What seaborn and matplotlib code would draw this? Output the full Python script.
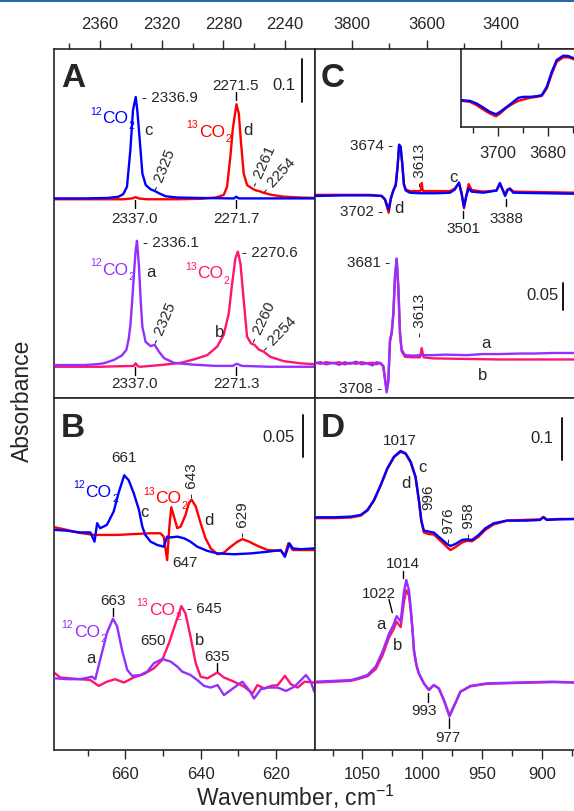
import numpy as np
import pandas as pd
import matplotlib
matplotlib.use('Agg')
import matplotlib.pyplot as plt
from matplotlib.lines import Line2D
from matplotlib.patches import Rectangle
import seaborn as sns

sns.set_style('ticks')
plt.rcParams['font.family'] = ['Liberation Sans', 'DejaVu Sans']
plt.rcParams['mathtext.fontset'] = 'custom'
plt.rcParams['mathtext.rm'] = 'Liberation Sans'
plt.rcParams['mathtext.it'] = 'Liberation Sans:italic'
plt.rcParams['mathtext.bf'] = 'Liberation Sans:bold'
plt.rcParams['mathtext.default'] = 'regular'

# ---------------- DATA (absorbance relative to each trace's baseline) ----------------
# Panel A : CO2 stretching region
A_wn_c = [2390, 2370, 2355, 2348, 2345, 2342.6, 2340.4, 2338.7, 2336.9, 2335.9, 2334.3, 2332.6,
          2330.4, 2327.2, 2325, 2321.8, 2317.5, 2310, 2295, 2276, 2273, 2271.7, 2270, 2267, 2250, 2220]
A_c = [0, 0, 0.001, 0.004, 0.010, 0.027, 0.112, 0.205, 0.236, 0.205, 0.136, 0.058,
       0.031, 0.021, 0.018, 0.012, 0.005, 0.002, 0.001, 0, 0, 0.004, 0, 0, 0, 0]
A_wn_d = [2390, 2360, 2345, 2339, 2337, 2335, 2330, 2310, 2295, 2285, 2279.8, 2277.6, 2275.4, 2273.9,
          2271.5, 2270.0, 2268.5, 2266.8, 2264.6, 2261.3, 2259.2, 2255.9, 2254, 2248.4, 2240.8, 2230, 2220]
A_d = [-0.002, -0.002, -0.002, 0.0, 0.003, 0.0, -0.002, -0.002, -0.001, 0.002, 0.008, 0.027, 0.099, 0.161,
       0.219, 0.198, 0.128, 0.058, 0.031, 0.023, 0.019, 0.016, 0.013, 0.008, 0.004, 0.002, 0.001]
A_wn_a = [2390, 2370, 2362, 2357.7, 2351, 2346, 2343, 2341.5, 2340.3, 2339, 2338, 2337, 2336.1, 2334.8,
          2333.7, 2332.6, 2330.5, 2327.2, 2324.6, 2321.8, 2318.5, 2312, 2300, 2285, 2274, 2271.3, 2268,
          2250, 2220]
A_a = [0, 0, 0.002, 0.004, 0.012, 0.022, 0.035, 0.06, 0.095, 0.16, 0.215, 0.265, 0.289, 0.229,
       0.151, 0.089, 0.054, 0.044, 0.047, 0.031, 0.016, 0.005, 0.001, -0.002, -0.002, 0.003, -0.002,
       -0.004, -0.004]
A_wn_b = [2388.9, 2359.7, 2338.1, 2337.0, 2335.5, 2333.8, 2320.8, 2307.8, 2299.2, 2290.5, 2284.0, 2279.8,
          2276.5, 2274.3, 2272.2, 2270.6, 2268.9, 2266.8, 2264.6, 2262.0, 2259.8, 2257.0, 2253.8, 2249.5,
          2240.8, 2230, 2221]
A_b = [-0.004, -0.004, -0.002, 0.004, -0.003, -0.004, 0.0, 0.005, 0.013, 0.023, 0.043, 0.070,
       0.120, 0.190, 0.248, 0.264, 0.236, 0.151, 0.066, 0.050, 0.047, 0.036, 0.031, 0.019,
       0.009, 0.004, 0.002]

# Panel B : CO2 bending region
B_wn = [678.7, 675.5, 672.0, 669.3, 668.2, 667.5, 666.7, 664.9, 663.1, 661.8, 660.3, 659.1, 657.8, 656.4,
        655.5, 654.7, 653.3, 651.5, 649.8, 648.9, 648.0, 646.2, 644.4, 642.7, 640.9, 638.2, 635.5,
        631.1, 626.7, 622.2, 618.7, 617.6, 616.4, 615.5, 613.3, 609.8]
B_c = [0.004, 0.003, 0.001, 0.001, -0.010, 0.012, 0.006, 0.010, 0.026, 0.048, 0.069, 0.063, 0.048, 0.028,
       0.008, -0.002, -0.010, -0.014, -0.016, -0.004, -0.005, -0.004, -0.006, -0.010, -0.016, -0.021, -0.024,
       -0.025, -0.024, -0.022, -0.020, -0.028, -0.012, -0.018, -0.019, -0.018]
B_wn_d = [678.7, 675.5, 672.9, 668.4, 662.2, 657.8, 653.3, 650.7, 649.8, 648.9, 648.3, 647.8, 647.1, 646.2,
          645.3, 644.0, 643.1, 642.4, 641.3, 640.0, 638.7, 637.3, 635.5, 633.8, 632.0, 630.2, 628.9,
          627.1, 624.9, 622.2, 618.7, 617.6, 616.7, 615.5, 609.8]
B_d = [0.007, 0.004, 0.001, -0.002, -0.002, -0.001, 0.0, 0.0, -0.004, -0.032, 0.008, 0.031, 0.020, 0.006,
       0.008, 0.022, 0.036, 0.040, 0.032, 0.012, -0.006, -0.018, -0.025, -0.023, -0.016, -0.010, -0.007,
       -0.010, -0.015, -0.020, -0.021, -0.026, -0.012, -0.020, -0.020]
B_wn_a = [678.7, 675.5, 672.0, 669.8, 668.9, 668.0, 666.7, 664.9, 663.3, 662.2, 660.9, 659.5, 658.2, 656.0,
          654.2, 652.4, 650.2, 648.0, 646.2, 644.9, 642.7, 640.9, 639.1, 637.3, 635.5, 633.8, 632.0,
          630.2, 628.9, 627.1, 625.8, 624.0, 622.2, 619.5, 617.3, 615.1, 613.3, 612.0, 610.7, 609.8]
B_a = [0.0, -0.001, -0.001, 0.001, 0.002, -0.001, 0.022, 0.054, 0.071, 0.062, 0.034, 0.010, 0.003, 0.004,
       0.008, 0.018, 0.023, 0.020, 0.014, 0.008, 0.004, -0.002, -0.009, -0.011, -0.008, -0.020, -0.014,
       -0.008, -0.004, -0.014, -0.024, -0.013, -0.011, -0.011, -0.015, -0.010, -0.002, 0.004, -0.004, -0.016]
B_wn_b = [678.7, 677.3, 674.7, 672.0, 669.3, 667.1, 664.9, 662.7, 660.4, 657.8, 655.1, 652.4, 650.2, 648.4,
          646.7, 645.1, 644.0, 642.7, 641.3, 640.0, 638.2, 635.5, 633.8, 631.1, 628.4, 626.2, 624.9,
          623.1, 621.3, 619.5, 617.6, 616.0, 614.2, 612.4, 609.8]
B_b = [0.006, 0.001, 0.0, -0.001, -0.002, -0.009, -0.004, -0.001, -0.005, 0.001, 0.005, 0.012, 0.022, 0.042,
       0.065, 0.086, 0.077, 0.050, 0.018, 0.002, 0.0, 0.007, 0.001, -0.004, -0.010, -0.018, -0.008,
       -0.012, -0.009, -0.008, 0.003, -0.007, -0.011, -0.004, -0.005]

# Panel C : OH stretching region
C_wn_c = [3900, 3824, 3752, 3721, 3712, 3702, 3696, 3689.5, 3683, 3678, 3674, 3670, 3665.5, 3661, 3656,
          3645, 3618, 3609, 3573, 3537, 3524, 3513, 3506, 3499.5, 3494, 3487, 3479, 3448, 3412, 3403,
          3395.5, 3389, 3383, 3376, 3367, 3286, 3196]
C_c = [-0.002, -0.001, -0.001, -0.002, -0.008, -0.027, -0.006, 0.008, 0.017, 0.052, 0.093, 0.090, 0.059,
       0.019, 0.008, 0.004, 0.003, 0.003, 0.003, 0.004, 0.010, 0.023, 0.002, -0.022, -0.004, 0.012, 0.006,
       0.004, 0.008, 0.022, 0.009, -0.002, 0.008, 0.011, 0.004, 0.003, 0.002]
C_wn_d = [3900, 3824, 3752, 3721, 3712, 3702, 3696, 3689.5, 3683, 3678, 3674, 3670, 3665.5, 3661, 3656,
          3645, 3618, 3615, 3613, 3611, 3609, 3573, 3537, 3524, 3513, 3506, 3499.5, 3494, 3487, 3479,
          3448, 3412, 3403, 3395.5, 3389, 3383, 3376, 3367, 3286, 3196]
C_d = [0.0, 0.0, 0.0, -0.002, -0.009, -0.033, -0.007, 0.008, 0.020, 0.052, 0.090, 0.088, 0.057, 0.020,
       0.010, 0.007, 0.007, 0.009, 0.022, 0.009, 0.007, 0.007, 0.007, 0.012, 0.022, 0.004, -0.025, -0.004,
       0.020, 0.009, 0.006, 0.008, 0.021, 0.010, 0.000, 0.010, 0.012, 0.006, 0.005, 0.004]
C_wn_a = [3900, 3885, 3870, 3851, 3835, 3820, 3806, 3790, 3775, 3761, 3745, 3735, 3725, 3716.3, 3711.8,
          3707.3, 3702.9, 3698.4, 3693.9, 3689.4, 3685, 3680.5, 3676, 3671.5, 3667, 3658, 3636, 3615,
          3582, 3550, 3492, 3450, 3403, 3350, 3313, 3260, 3196]
C_a = [0.0, 0.002, -0.002, 0.001, -0.003, 0.002, -0.001, 0.003, -0.002, 0.0, -0.004, 0.002, 0.0, -0.006,
       -0.031, -0.054, -0.034, 0.043, 0.057, 0.093, 0.160, 0.194, 0.142, 0.056, 0.025, 0.015, 0.014, 0.015,
       0.015, 0.016, 0.015, 0.017, 0.017, 0.018, 0.018, 0.019, 0.019]
C_wn_b = [3900, 3885, 3870, 3851, 3835, 3820, 3806, 3790, 3775, 3761, 3745, 3735, 3725, 3716.3, 3711.8,
          3707.3, 3702.9, 3698.4, 3693.9, 3689.4, 3685, 3680.5, 3676, 3671.5, 3667, 3658, 3636, 3618,
          3615, 3613, 3611, 3608, 3582, 3492, 3403, 3313, 3196]
C_b = [0.001, -0.001, 0.002, 0.0, 0.002, -0.002, 0.001, -0.001, 0.002, 0.0, 0.001, -0.002, 0.001, -0.005,
       -0.028, -0.050, -0.032, 0.040, 0.055, 0.090, 0.158, 0.192, 0.140, 0.054, 0.022, 0.012, 0.011, 0.011,
       0.020, 0.028, 0.020, 0.011, 0.009, 0.008, 0.007, 0.007, 0.007]

# Inset of panel C
I_wn = [3714.5, 3711.2, 3708.5, 3705.9, 3703.2, 3700.8, 3699.2, 3696.5, 3693.9, 3691.9, 3689.9, 3687.2,
        3684.5, 3682.5, 3680.5, 3678.5, 3676.5, 3673.9, 3671.9, 3669.6, 3668.4]
I_c = [0.0, -0.0015, -0.0074, -0.0163, -0.0259, -0.0311, -0.0259, -0.0148, -0.0037, 0.0052, 0.0074, 0.0074,
       0.0089, 0.0111, 0.0296, 0.0630, 0.0889, 0.0985, 0.0978, 0.0926, 0.0910]
I_d = [-0.0015, -0.0037, -0.0111, -0.0207, -0.0296, -0.0356, -0.0296, -0.0163, -0.0074, -0.0015, 0.0015,
       0.0052, 0.0074, 0.0096, 0.0259, 0.0578, 0.0852, 0.0948, 0.0948, 0.0904, 0.0890]

# Panel D : carbonate / lattice region
D_wn_c = [1089.7, 1073.6, 1059.7, 1051.4, 1045.8, 1040.3, 1034.7, 1029.2, 1023.6, 1018.1, 1013.9, 1009.7,
          1005.6, 1002.8, 1000.8, 998.6, 994.4, 990.3, 984.7, 979.2, 976.4, 972.2, 966.7, 962.5, 958.3,
          952.8, 947.2, 940.3, 929.2, 912.5, 901.4, 898.6, 895.8, 884.7, 870.5]
D_c = [0, 0, 0.0016, 0.0056, 0.0175, 0.0413, 0.0770, 0.1167, 0.1444, 0.1579, 0.1524, 0.1325, 0.0968,
       0.0413, -0.0063, -0.0317, -0.0341, -0.0365, -0.0500, -0.0635, -0.0683, -0.0635, -0.0540, -0.0524,
       -0.0540, -0.0421, -0.0262, -0.0143, -0.0079, -0.0079, -0.0063, 0.0, -0.0063, -0.0048, -0.0040]
D_d = [-0.002, -0.002, -0.0005, 0.004, 0.016, 0.040, 0.076, 0.115, 0.143, 0.156, 0.151, 0.131, 0.095,
       0.040, -0.009, -0.036, -0.040, -0.041, -0.056, -0.071, -0.078, -0.071, -0.060, -0.056, -0.057,
       -0.046, -0.030, -0.017, -0.008, -0.006, -0.005, 0.001, -0.005, -0.004, -0.004]
D_wn_a = [1089.7, 1073.6, 1059.7, 1054.1, 1045.8, 1038.9, 1033.3, 1027.8, 1024.1, 1021.4, 1018.0, 1015.3,
          1013.3, 1011.1, 1009.7, 1008.0, 1006.9, 1004.8, 1002.8, 998.6, 994.4, 990.3, 986.1, 981.9,
          977.2, 972.2, 968.1, 959.7, 945.8, 920.8, 890.5, 870.5]
D_a = [0, 0.002, 0.004, 0.008, 0.016, 0.036, 0.071, 0.114, 0.135, 0.156, 0.143, 0.214, 0.242, 0.218, 0.178,
       0.120, 0.075, 0.040, 0.020, -0.004, -0.020, -0.008, -0.016, -0.044, -0.083, -0.051, -0.024, -0.010,
       -0.004, -0.002, 0.0, -0.002]
D_b = [-0.002, 0.0, 0.002, 0.006, 0.013, 0.030, 0.062, 0.105, 0.124, 0.143, 0.130, 0.190, 0.218, 0.205, 0.172,
       0.118, 0.073, 0.038, 0.019, -0.004, -0.019, -0.008, -0.016, -0.043, -0.080, -0.050, -0.024, -0.011,
       -0.005, -0.003, -0.001, -0.002]

# ---------------- STYLE ----------------
BLUE, RED, VIOLET, PINK = '#0000FF', '#FF0000', '#9430FF', '#FF1470'
LW = 1.7
W, H = 574, 811
FS_TICK, FS_ANN, FS_LET, FS_PANEL, FS_AX = 12, 11, 12, 24, 16.5
FS_CO, FS_ISO = 12.5, 7.5

fig = plt.figure(figsize=(W / 100, H / 100), dpi=100)
fig.patch.set_facecolor('white')
renderer = fig.canvas.get_renderer()


def add_ax(x0, y0, x1, y1):
    return fig.add_axes([x0 / W, 1 - y1 / H, (x1 - x0) / W, (y1 - y0) / H])


def ftxt(x, y, s, **kw):
    kw.setdefault('fontsize', FS_ANN)
    kw.setdefault('va', 'baseline')
    return fig.text(x / W, 1 - y / H, s, **kw)


def fline(x0, y0, x1, y1, lw=1.0):
    fig.add_artist(Line2D([x0 / W, x1 / W], [1 - y0 / H, 1 - y1 / H], transform=fig.transFigure,
                          color='black', lw=lw))


def co2(x, y, iso, color):
    t1 = ftxt(x, y - 8.5, iso, fontsize=FS_ISO, color=color)
    w1 = t1.get_window_extent(renderer).width
    t2 = ftxt(x + w1 + 0.5, y, 'CO', fontsize=FS_CO, color=color)
    w2 = t2.get_window_extent(renderer).width
    ftxt(x + w1 + w2 + 1.0, y + 5.5, '2', fontsize=FS_ISO, color=color)


def draw(ax, wn, vals, offset, color, z):
    df = pd.DataFrame({'wn': wn, 'A': np.asarray(vals, dtype=float) + offset})
    sns.lineplot(data=df, x='wn', y='A', ax=ax, color=color, lw=LW, estimator=None,
                 sort=True, zorder=z, legend=False)


def style(ax, top, major, minor, xlim, ylim, pad):
    ax.set_xlim(*xlim)
    ax.set_ylim(*ylim)
    ax.set_xlabel('')
    ax.set_ylabel('')
    ax.set_yticks([])
    ax.set_xticks(major)
    ax.set_xticks(minor, minor=True)
    ax.set_xticklabels([str(v) for v in major])
    for s in ax.spines.values():
        s.set_linewidth(1.2)
        s.set_visible(True)
    ax.tick_params(axis='x', which='both', direction='out', width=1.0, top=top, bottom=not top,
                   labeltop=top, labelbottom=not top, labelsize=FS_TICK, pad=pad)
    ax.tick_params(axis='x', which='major', length=6.5)
    ax.tick_params(axis='x', which='minor', length=4)
    ax.set_facecolor('white')


axA = add_ax(53.5, 49, 315, 398)
axB = add_ax(53.5, 398, 315, 750)
axC = add_ax(315, 49, 577, 398)
axD = add_ax(315, 398, 577, 750)

# Panel A
draw(axA, A_wn_d, A_d, 0.4644, RED, 2)
draw(axA, A_wn_c, A_c, 0.4644, BLUE, 3)
draw(axA, A_wn_b, A_b, 0.0767, PINK, 2)
draw(axA, A_wn_a, A_a, 0.0767, VIOLET, 3)
axA.plot([2228.7, 2228.7], [0.688, 0.788], color='black', lw=1.3)
style(axA, True, [2360, 2320, 2280, 2240], [2380, 2340, 2300, 2260], (2390.3, 2220.5), (0, 0.812), 6)

# Panel B
draw(axB, B_wn_d, B_d, 0.258, RED, 2)
draw(axB, B_wn, B_c, 0.258, BLUE, 3)
draw(axB, B_wn_b, B_b, 0.0853, PINK, 2)
draw(axB, B_wn_a, B_a, 0.0853, VIOLET, 3)
axB.plot([612.8, 612.8], [0.349, 0.399], color='black', lw=1.3)
style(axB, False, [660, 640, 620], [670, 650, 630], (679.1, 609.6), (0, 0.419), 6)

# Panel C
draw(axC, C_wn_d, C_d, 0.376, RED, 2)
draw(axC, C_wn_c, C_c, 0.376, BLUE, 3)
draw(axC, C_wn_b, C_b, 0.0643, PINK, 2)
draw(axC, C_wn_a, C_a, 0.0643, VIOLET, 3)
axC.plot([3233.3, 3233.3], [0.163, 0.213], color='black', lw=1.3)
style(axC, True, [3800, 3600, 3400], [3700, 3500, 3300], (3900, 3195.7), (0, 0.646), 6)

# Panel D
draw(axD, D_wn_c, D_d, 0.554, RED, 2)
draw(axD, D_wn_c, D_c, 0.554, BLUE, 3)
draw(axD, D_wn_a, D_b, 0.1626, PINK, 2)
draw(axD, D_wn_a, D_a, 0.1626, VIOLET, 3)
axD.plot([883, 883], [0.690, 0.790], color='black', lw=1.3)
style(axD, False, [1050, 1000, 950, 900], [1075, 1025, 975, 925, 875], (1089.7, 870.5), (0, 0.838), 6)

# Inset
axI = add_ax(461, 49, 577, 127)
axI.set_zorder(5)
draw(axI, I_wn, I_d, 0.0, RED, 2)
draw(axI, I_wn, I_c, 0.0, BLUE, 3)
style(axI, False, [3700, 3680], [3710, 3690, 3670], (3714.8, 3668.4), (-0.0593, 0.1133), 7)

# thin border strip at the very top of the picture
fig.add_artist(Rectangle((0, 1 - 2 / H), 1, 2 / H, transform=fig.transFigure, color='#2a66b0', lw=0))

# ---------------- TEXT ----------------
bold = dict(fontsize=FS_PANEL, fontweight='bold', va='baseline')
ftxt(61, 87, 'A', **bold)
ftxt(61, 437, 'B', **bold)
ftxt(321, 87, 'C', **bold)
ftxt(321, 437, 'D', **bold)

rot = dict(rotation_mode='anchor', ha='left', va='center')

# Panel A texts
co2(90, 123.3, '12', BLUE)
co2(186.7, 136.7, '13', RED)
ftxt(144, 135, 'c', fontsize=FS_LET)
ftxt(243.3, 135, 'd', fontsize=FS_LET)
ftxt(141.7, 101.7, '- 2336.9')
ftxt(235.8, 90, '2271.5', ha='center')
fline(235.7, 92, 235.7, 100)
ftxt(295, 90, '0.1', ha='right', fontsize=FS_LET)
ftxt(135, 223.3, '2337.0', ha='center')
fline(135, 200, 135, 208)
ftxt(236, 223.3, '2271.7', ha='center')
fline(236, 200, 236, 208)
ftxt(155, 190.5, '- 2325', rotation=68, **rot)
ftxt(254, 186, '- 2261', rotation=66, **rot)
ftxt(264.3, 192.7, '- 2254', rotation=48, **rot)

co2(90, 275, '12', VIOLET)
co2(185, 278, '13', PINK)
ftxt(146.7, 276.7, 'a', fontsize=FS_LET)
ftxt(215, 336.7, 'b', fontsize=FS_LET)
ftxt(142.7, 246.7, '- 2336.1')
ftxt(242.3, 256.7, '- 2270.6')
ftxt(155, 343.3, '- 2325', rotation=67, **rot)
ftxt(253.5, 342.7, '- 2260', rotation=65, **rot)
ftxt(264.3, 350, '- 2254', rotation=46, **rot)
ftxt(135, 388.3, '2337.0', ha='center')
fline(135, 367, 135, 375)
ftxt(236, 388.3, '2271.3', ha='center')
fline(236, 367, 236, 375)

# Panel B texts
ftxt(295, 441.7, '0.05', ha='right', fontsize=FS_LET)
ftxt(123.5, 461.7, '661', ha='center')
co2(73.3, 496.7, '12', BLUE)
co2(143.3, 503.3, '13', RED)
ftxt(140, 516.7, 'c', fontsize=FS_LET)
ftxt(204, 525, 'd', fontsize=FS_LET)
ftxt(172.3, 566.7, '647')
ftxt(191.7, 498.3, '- 643', rotation=90, **rot)
ftxt(243, 537, '- 629', rotation=90, **rot)
ftxt(113, 605, '663', ha='center')
fline(113, 608, 113, 616)
co2(61.7, 636.7, '12', VIOLET)
co2(136.7, 615, '13', PINK)
ftxt(186.7, 613.3, '- 645')
ftxt(152.7, 645, '650', ha='center')
ftxt(195, 645, 'b', fontsize=FS_LET)
ftxt(217, 661, '635', ha='center')
fline(217, 663, 217, 671)
ftxt(86, 663.3, 'a', fontsize=FS_LET)

# Panel C texts
ftxt(393.3, 150, '3674 -', ha='right')
ftxt(420, 186.7, '- 3613', rotation=90, **rot)
ftxt(449.3, 181.7, 'c', fontsize=FS_LET)
ftxt(383.3, 216, '3702 -', ha='right')
ftxt(394.3, 213.3, 'd', fontsize=FS_LET)
ftxt(463.3, 233.3, '3501', ha='center')
fline(463.3, 211, 463.3, 218)
ftxt(506, 223.3, '3388', ha='center')
fline(505.7, 199, 505.7, 206)
ftxt(390, 266.7, '3681 -', ha='right')
ftxt(420, 336.7, '- 3613', rotation=90, **rot)
ftxt(558.3, 300, '0.05', ha='right', fontsize=FS_LET)
ftxt(481, 348.3, 'a', fontsize=FS_LET)
ftxt(478.3, 380, 'b', fontsize=FS_LET)
ftxt(381.7, 393.3, '3708 -', ha='right')

# Inset texts
ftxt(503.3, 83.3, '3691', ha='center')
fline(506.7, 87.7, 516, 95)
ftxt(530, 91.7, 'c', fontsize=FS_LET)
ftxt(521.7, 115, 'd', fontsize=FS_LET)

# Panel D texts
ftxt(400, 445, '1017', ha='center')
ftxt(553.3, 443.3, '0.1', ha='right', fontsize=FS_LET)
ftxt(418.3, 471.7, 'c', fontsize=FS_LET)
ftxt(401.7, 488.3, 'd', fontsize=FS_LET)
ftxt(428, 510, '996', rotation=90, **rot)
ftxt(448.7, 543.3, '- 976', rotation=90, **rot)
ftxt(469, 538.3, '- 958', rotation=90, **rot)
ftxt(403.3, 568.3, '1014', ha='center')
fline(403.3, 571, 403.3, 578)
ftxt(379, 598.3, '1022', ha='center')
fline(389, 599.5, 392.3, 612.7)
ftxt(376.7, 629.3, 'a', fontsize=FS_LET)
ftxt(392.7, 650, 'b', fontsize=FS_LET)
ftxt(424.5, 715, '993', ha='center')
fline(427.7, 692.7, 427.7, 701.7)
ftxt(448, 741.7, '977', ha='center')
fline(448.7, 718, 448.7, 728)

# Axis titles
ftxt(295, 806, r'Wavenumber, cm$^{-1}$', ha='center', fontsize=FS_AX)
fig.text(22 / W, 1 - 401 / H, 'Absorbance', rotation=90, ha='center', va='center', fontsize=FS_AX)

fig.savefig('out.png', dpi=100)
